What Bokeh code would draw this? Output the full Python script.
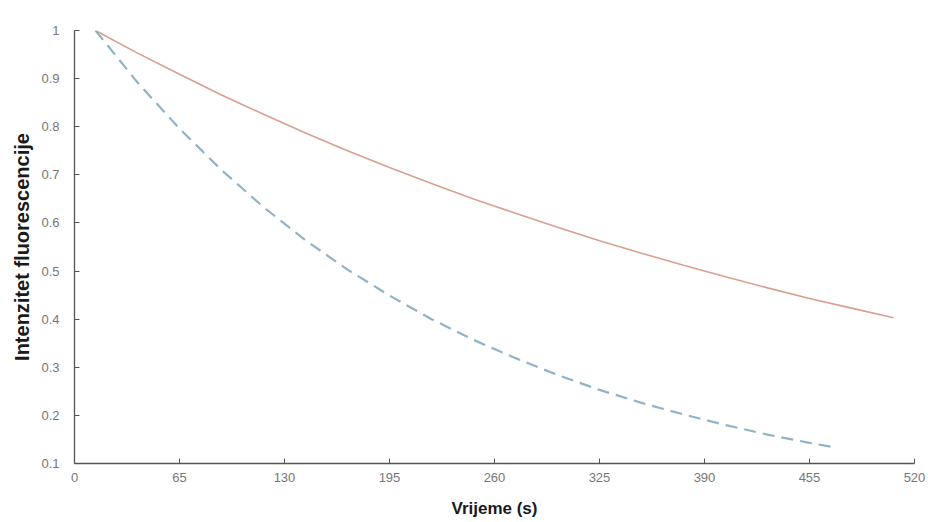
from bokeh.plotting import figure
from bokeh.models import Range1d, FixedTicker
from bokeh.embed import file_html
from bokeh.resources import INLINE

# Data
t_slow = [13, 39, 65, 91, 117, 143, 169, 195, 221, 247, 273, 299, 325, 351, 377, 403, 429, 455, 481, 507]
i_slow = [1.0, 0.953, 0.909, 0.866, 0.826, 0.787, 0.750, 0.715, 0.682, 0.650, 0.620, 0.591,
          0.563, 0.537, 0.512, 0.488, 0.465, 0.443, 0.423, 0.403]

t_fast = [13, 39, 65, 91, 117, 143, 169, 195, 221, 247, 273, 299, 325, 351, 377, 403, 429, 455, 468]
i_fast = [1.0, 0.892, 0.796, 0.710, 0.633, 0.564, 0.503, 0.449, 0.400, 0.357, 0.319, 0.284,
          0.253, 0.226, 0.202, 0.180, 0.160, 0.143, 0.135]

x_ticks = [0, 65, 130, 195, 260, 325, 390, 455, 520]
y_ticks = [0.1, 0.2, 0.3, 0.4, 0.5, 0.6, 0.7, 0.8, 0.9, 1.0]

p = figure(width=928, height=522, output_backend="svg", toolbar_location=None,
           x_range=Range1d(0, 520), y_range=Range1d(0.1, 1.0),
           min_border_left=74, min_border_right=14, min_border_top=30, min_border_bottom=59)

p.line(t_slow, i_slow, line_color="#da9e92", line_width=1.6)
p.line(t_fast, i_fast, line_color="#90b3c8", line_width=2.2, line_dash="12 7")

p.grid.visible = False
p.outline_line_color = None
p.background_fill_color = "white"

for ax in (p.xaxis[0], p.yaxis[0]):
    ax.axis_line_color = "#555555"
    ax.axis_line_width = 1.3
    ax.major_tick_line_color = "#555555"
    ax.major_tick_in = 5
    ax.major_tick_out = 0
    ax.minor_tick_line_color = None
    ax.major_label_text_font = "Liberation Sans"
    ax.major_label_text_font_size = "13px"
    ax.major_label_text_color = "#777777"
    ax.axis_label_text_font = "Liberation Sans"
    ax.axis_label_text_font_style = "bold"
    ax.axis_label_text_font_size = "17px"
    ax.axis_label_text_color = "#1a1a1a"

p.yaxis.axis_label_text_font_size = "20px"

p.xaxis.ticker = FixedTicker(ticks=x_ticks)
p.yaxis.ticker = FixedTicker(ticks=y_ticks)
p.yaxis.major_label_overrides = {1.0: "1"}
p.xaxis.major_label_standoff = 9
p.yaxis.major_label_standoff = 15
p.xaxis.axis_label = "Vrijeme (s)"
p.yaxis.axis_label = "Intenzitet fluorescencije"
p.xaxis.axis_label_standoff = 14
p.yaxis.axis_label_standoff = 5

open("out.html", "w").write(file_html(p, INLINE))
